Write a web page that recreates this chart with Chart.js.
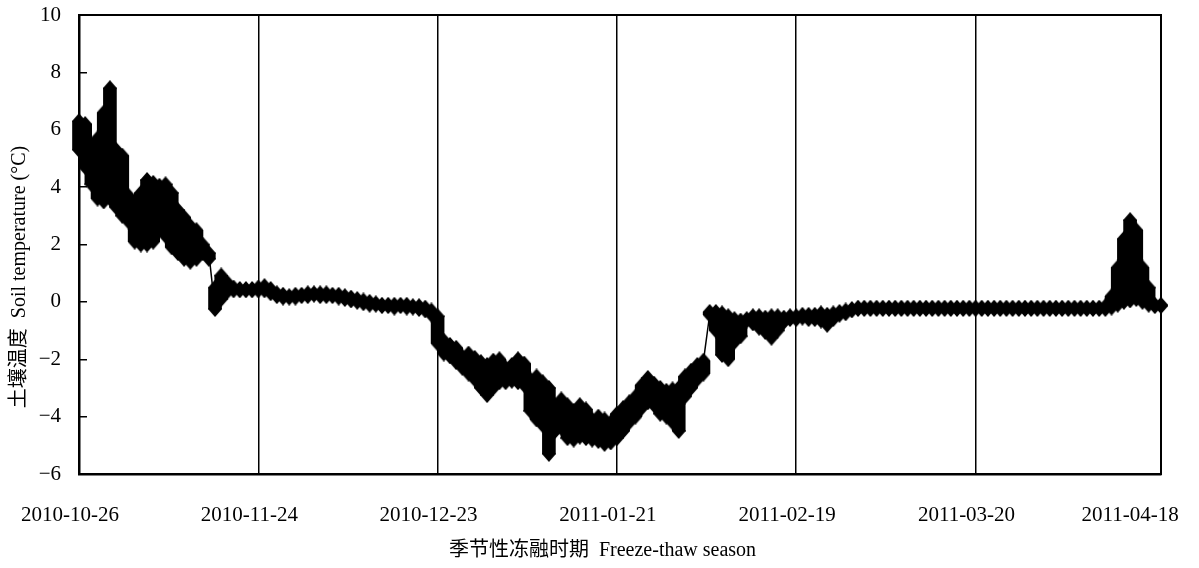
<!DOCTYPE html>
<html>
<head>
<meta charset="utf-8">
<script src="https://cdn.jsdelivr.net/npm/chart.js@4/dist/chart.umd.min.js"></script>
<style>
  html, body { margin: 0; padding: 0; background: #fff; }
  canvas { display: block; }
</style>
</head>
<body>
<canvas id="soil" width="1199" height="568"></canvas>
<script>
// Daily soil temperature extremes (°C); index 0 = 2010-10-26, one entry per day.
const dailyMax = [
  6.3, 6.2, 5.3, 5.7, 6.6, 7.45, 5.3, 5.1, 3.7, 3.3,
  3.8, 4.25, 4.15, 4.05, 4.1, 3.8, 3.2, 2.95, 2.65, 2.5,
  2.0, 1.7, 0.5, 0.92, 0.67, 0.5, 0.45, 0.45, 0.45, 0.5,
  0.55, 0.45, 0.3, 0.25, 0.2, 0.25, 0.25, 0.3, 0.3, 0.3,
  0.3, 0.25, 0.25, 0.2, 0.15, 0.1, 0.05, 0.0, -0.05, -0.1,
  -0.1, -0.1, -0.1, -0.1, -0.15, -0.15, -0.2, -0.3, -0.5, -1.35,
  -1.5, -1.6, -1.9, -1.8, -1.95, -2.1, -2.2, -2.05, -2.0, -2.3,
  -2.2, -2.0, -2.15, -2.7, -2.6, -2.8, -3.0, -3.6, -3.4, -3.6,
  -3.8, -3.6, -3.75, -4.1, -4.0, -4.1, -4.2, -3.9, -3.7, -3.5,
  -3.3, -2.9, -2.65, -2.85, -3.0, -3.1, -3.05, -3.0, -2.6, -2.4,
  -2.2, -2.05, -0.35, -0.35, -0.4, -0.5, -0.6, -0.65, -0.6, -0.5,
  -0.5, -0.55, -0.5, -0.5, -0.55, -0.5, -0.5, -0.45, -0.45, -0.45,
  -0.4, -0.45, -0.4, -0.35, -0.3, -0.25, -0.2, -0.2, -0.2, -0.2,
  -0.2, -0.2, -0.2, -0.2, -0.2, -0.2, -0.2, -0.2, -0.2, -0.2,
  -0.2, -0.2, -0.2, -0.2, -0.2, -0.2, -0.2, -0.2, -0.2, -0.2,
  -0.2, -0.2, -0.2, -0.2, -0.2, -0.2, -0.2, -0.2, -0.2, -0.2,
  -0.2, -0.2, -0.2, -0.2, -0.2, -0.2, -0.15, 0.2, 1.2, 2.2,
  2.85, 2.5, 1.2, 0.5, -0.1, -0.1
];
const dailyMin = [
  5.3, 4.7, 4.1, 3.6, 3.5, 3.6, 3.3, 3.0, 2.8, 2.1,
  2.0, 2.0, 2.1, 2.6, 2.3, 1.9, 1.7, 1.5, 1.4, 1.5,
  1.7, 1.5, -0.25, 0.1, 0.36, 0.4, 0.4, 0.4, 0.4, 0.4,
  0.4, 0.3, 0.2, 0.15, 0.15, 0.15, 0.2, 0.2, 0.25, 0.2,
  0.2, 0.2, 0.15, 0.1, 0.05, 0.0, -0.05, -0.1, -0.1, -0.15,
  -0.15, -0.2, -0.15, -0.2, -0.2, -0.25, -0.3, -0.45, -1.45, -1.8,
  -1.9, -2.1, -2.3, -2.5, -2.7, -3.0, -3.25, -3.0, -2.8, -2.8,
  -2.75, -2.8, -2.9, -3.8, -4.1, -4.3, -5.3, -4.5, -4.4, -4.75,
  -4.8, -4.7, -4.75, -4.8, -4.85, -4.95, -4.9, -4.75, -4.5, -4.2,
  -4.0, -3.7, -3.5, -3.6, -3.9, -4.0, -4.2, -4.5, -3.3, -3.0,
  -2.7, -2.5, -0.45, -1.0, -1.85, -2.0, -1.4, -1.2, -0.65, -0.75,
  -0.9, -1.05, -1.25, -1.0, -0.7, -0.6, -0.6, -0.55, -0.6, -0.6,
  -0.65, -0.8, -0.6, -0.45, -0.4, -0.3, -0.25, -0.25, -0.25, -0.25,
  -0.25, -0.25, -0.25, -0.25, -0.25, -0.25, -0.25, -0.25, -0.25, -0.25,
  -0.25, -0.25, -0.25, -0.25, -0.25, -0.25, -0.25, -0.25, -0.25, -0.25,
  -0.25, -0.25, -0.25, -0.25, -0.25, -0.25, -0.25, -0.25, -0.25, -0.25,
  -0.25, -0.25, -0.25, -0.25, -0.25, -0.25, -0.25, -0.2, -0.1, 0.0,
  0.05, 0.1, 0.0, -0.1, -0.15, -0.15
];

// Axis ticks: day offsets from the first date and their labels.
const tickDays = [0, 29, 58, 87, 116, 145, 174];
const tickLabels = ['2010-10-26', '2010-11-24', '2010-12-23', '2011-01-21', '2011-02-19', '2011-03-20', '2011-04-18'];
const yTicks = [-6, -4, -2, 0, 2, 4, 6, 8, 10];

const yTitle = '土壤温度  Soil temperature (°C)';
const xTitle = '季节性冻融时期  Freeze-thaw season';

const FONT = '"Liberation Serif", "Times New Roman", "Noto Sans CJK SC", serif';

// Solid black diamond marker.
function makeDiamond(w, h) {
  const c = document.createElement('canvas');
  c.width = w; c.height = h;
  const g = c.getContext('2d');
  g.fillStyle = '#000';
  g.beginPath();
  g.moveTo(w / 2, 0);
  g.lineTo(w, h / 2);
  g.lineTo(w / 2, h);
  g.lineTo(0, h / 2);
  g.closePath();
  g.fill();
  return c;
}
const diamond = makeDiamond(14, 16);

// Readings in time order (daily low, then daily high) and each day's range.
const readings = [];
dailyMax.forEach((hi, i) => {
  readings.push({ x: i, y: dailyMin[i] });
  readings.push({ x: i, y: hi });
});
const dayRanges = dailyMax.map((hi, i) => ({ x: i, y: [dailyMin[i], hi] }));

const zeroPad = s => { s.paddingLeft = 0; s.paddingRight = 0; s.paddingTop = 0; s.paddingBottom = 0; };

// The last date label sits at the right edge, so it is nudged inward with trailing spacing.
const labelFor = v => {
  const i = tickDays.indexOf(v);
  return i === tickDays.length - 1 ? tickLabels[i] + '      ' : tickLabels[i];
};

new Chart(document.getElementById('soil'), {
  type: 'bar',
  data: {
    datasets: [
      {
        type: 'line',
        data: readings,
        parsing: false,
        borderColor: '#000',
        borderWidth: 1.5,
        pointStyle: diamond,
        pointRadius: 8,
        pointHoverRadius: 8,
        tension: 0,
        clip: false,
        order: 0
      },
      {
        type: 'bar',
        data: dayRanges,
        backgroundColor: '#000',
        borderWidth: 0,
        barThickness: 13,
        grouped: false,
        clip: false,
        order: 1
      }
    ]
  },
  options: {
    responsive: false,
    animation: false,
    devicePixelRatio: 1,
    events: [],
    layout: { padding: { left: 0, top: 15, right: 38, bottom: 0 } },
    plugins: { legend: { display: false }, tooltip: { enabled: false } },
    scales: {
      x: {
        type: 'linear',
        position: 'bottom',
        min: 0,
        max: 175,
        offset: false,
        afterBuildTicks: s => { s.ticks = tickDays.map(v => ({ value: v })); },
        afterFit: s => { s.height = 94; zeroPad(s); },
        grid: {
          offset: false,
          drawTicks: false,
          lineWidth: 1.5,
          color: c => (c.tick && c.tick.value === 174) ? 'rgba(0,0,0,0)' : '#000'
        },
        border: { display: true, color: '#000', width: 2.5 },
        ticks: {
          autoSkip: false,
          maxRotation: 0,
          padding: 29,
          labelOffset: -9,
          color: '#000',
          font: { family: FONT, size: 21 },
          callback: labelFor
        },
        title: {
          display: true,
          text: xTitle + '       ',
          color: '#000',
          font: { family: FONT, size: 20 },
          padding: { top: 0, bottom: 5 }
        }
      },
      xTop: {
        type: 'linear',
        position: 'top',
        min: 0,
        max: 175,
        afterFit: s => { s.height = 0; zeroPad(s); },
        grid: { display: false, drawTicks: false },
        ticks: { display: false },
        border: { display: true, color: '#000', width: 2 }
      },
      y: {
        type: 'linear',
        position: 'left',
        min: -6,
        max: 10,
        afterBuildTicks: s => { s.ticks = yTicks.map(v => ({ value: v })); },
        afterFit: s => { s.width = 79; zeroPad(s); },
        grid: { drawOnChartArea: false, drawTicks: true, tickLength: -8, color: '#000', lineWidth: 1.5 },
        border: { display: true, color: '#000', width: 2.5 },
        ticks: {
          padding: 26,
          color: '#000',
          font: { family: FONT, size: 21 },
          callback: v => (v < 0 ? '\u2212' + Math.abs(v) : String(v))
        },
        title: {
          display: true,
          text: yTitle + '             ',
          color: '#000',
          font: { family: FONT, size: 20 },
          padding: { top: 8, bottom: 0 }
        }
      },
      yRight: {
        type: 'linear',
        position: 'right',
        min: -6,
        max: 10,
        afterFit: s => { s.width = 0; zeroPad(s); },
        grid: { display: false, drawTicks: false },
        ticks: { display: false },
        border: { display: true, color: '#000', width: 2 }
      }
    }
  }
});
</script>
</body>
</html>
